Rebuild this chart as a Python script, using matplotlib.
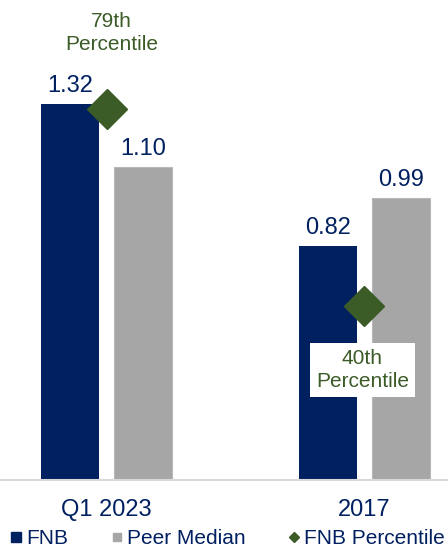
import matplotlib.pyplot as plt
from matplotlib.lines import Line2D
import numpy as np

plt.rcParams["font.family"] = ["Liberation Sans", "DejaVu Sans"]

CATEGORIES = ["Q1 2023", "2017"]
FNB_VALUES = [1.32, 0.82]
PEER_VALUES = [1.10, 0.99]
PERCENTILES = [79, 40]
PCT_LABELS = ["79th\nPercentile", "40th\nPercentile"]

NAVY = "#002060"
GRAY = "#A6A6A6"
GREEN = "#3B5B27"

fig = plt.figure(figsize=(4.48, 5.48), dpi=100)
ax = fig.add_axes([0, 0.1241, 1, 0.8316])
x = np.arange(len(CATEGORIES))
w = 0.225
off = 0.142

ax.bar(x - off, FNB_VALUES, w, color=NAVY, label="FNB")
ax.bar(x + off, PEER_VALUES, w, color=GRAY, edgecolor="#B8B8B8", linewidth=0.8,
       label="Peer Median")
for xi, v in zip(x - off, FNB_VALUES):
    ax.annotate(f"{v:.2f}", (xi, v), xytext=(0, 5), textcoords="offset points",
                ha="center", va="bottom", fontsize=17, color=NAVY)
for xi, v in zip(x + off, PEER_VALUES):
    ax.annotate(f"{v:.2f}", (xi, v), xytext=(0, 5), textcoords="offset points",
                ha="center", va="bottom", fontsize=17, color=NAVY)

ax.set_xlim(-0.413, 1.324)
ax.set_ylim(0, 1.6)
ax.set_yticks([])
ax.set_xticks(x)
ax.set_xticklabels(CATEGORIES, fontsize=17, color=NAVY)
ax.tick_params(axis="x", length=0, pad=14)
for s in ["top", "left", "right"]:
    ax.spines[s].set_visible(False)
ax.spines["bottom"].set_color("#D9D9D9")
ax.spines["bottom"].set_linewidth(1.5)

ax2 = ax.twinx()
ax2.set_ylim(5.6, 95.7)
ax2.set_yticks([])
for s in ax2.spines.values():
    s.set_visible(False)
ax2.plot(x, PERCENTILES, linestyle="none", marker="D", markersize=20,
         color=GREEN, zorder=5)

ax2.annotate(PCT_LABELS[0], (x[0], PERCENTILES[0]), xytext=(5, 76),
             textcoords="offset pixels", ha="center", va="center",
             fontsize=15, color=GREEN, linespacing=1.25, annotation_clip=False)
ax2.annotate(PCT_LABELS[1], (x[1], PERCENTILES[1]), xytext=(-2, -64),
             textcoords="offset pixels", ha="center", va="center",
             fontsize=15, color=GREEN, linespacing=1.25,
             bbox=dict(boxstyle="square,pad=0.3", fc="white", ec="none"))

handles = [
    Line2D([], [], linestyle="none", marker="s", markersize=7.5, color=NAVY),
    Line2D([], [], linestyle="none", marker="s", markersize=6, color=GRAY),
    Line2D([], [], linestyle="none", marker="D", markersize=5.5, color=GREEN),
]
fig.legend(handles, ["FNB", "Peer Median", "FNB Percentile"], loc="lower left",
           bbox_to_anchor=(0.02, -0.004), ncol=3, frameon=False, fontsize=15,
           labelcolor=NAVY, handlelength=0.5, handletextpad=0.25,
           columnspacing=2.05, borderaxespad=0, borderpad=0.1)

fig.savefig("out.png", dpi=100)
